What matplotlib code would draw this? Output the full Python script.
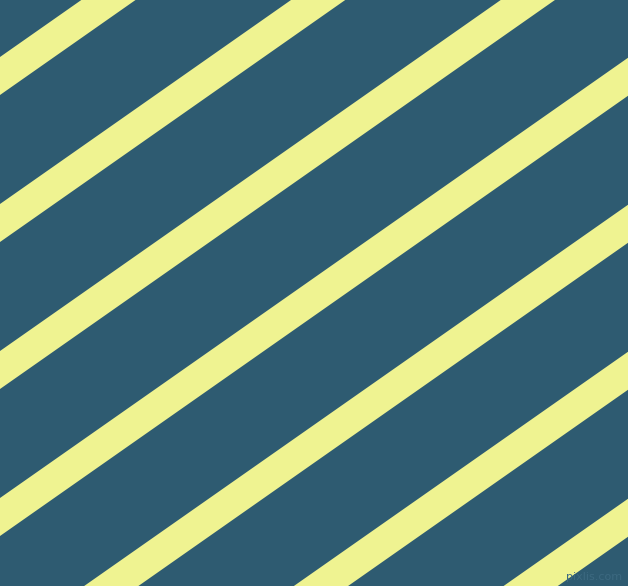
import matplotlib
matplotlib.use("Agg")
import matplotlib.pyplot as plt
import numpy as np

# Stripe upper-edge intercepts at the left border (pixels from top)
stripe_offsets = [57, 204, 351, 498, 645, 792, 939]
stripe_slope = 0.701          # drop in y per pixel in x (about 35 degrees)
stripe_height = 38            # vertical thickness in pixels
bg_color = "#2E5B71"
stripe_color = "#EFF391"

W, H = 628, 586
fig = plt.figure(figsize=(W / 100, H / 100), dpi=100)
ax = fig.add_axes([0, 0, 1, 1])
ax.set_facecolor(bg_color)
fig.patch.set_facecolor(bg_color)

xs = np.array([0.0, W])
for off in stripe_offsets:
    top = off - stripe_slope * xs
    ax.fill_between(xs, top, top + stripe_height, color=stripe_color, linewidth=0)

ax.text(622, 577, "pixlis.com", ha="right", va="center", fontsize=8,
        color="#3C6980", family="DejaVu Sans")

ax.set_xlim(0, W)
ax.set_ylim(H, 0)
ax.axis("off")
fig.savefig("out.png", dpi=100, facecolor=bg_color)
